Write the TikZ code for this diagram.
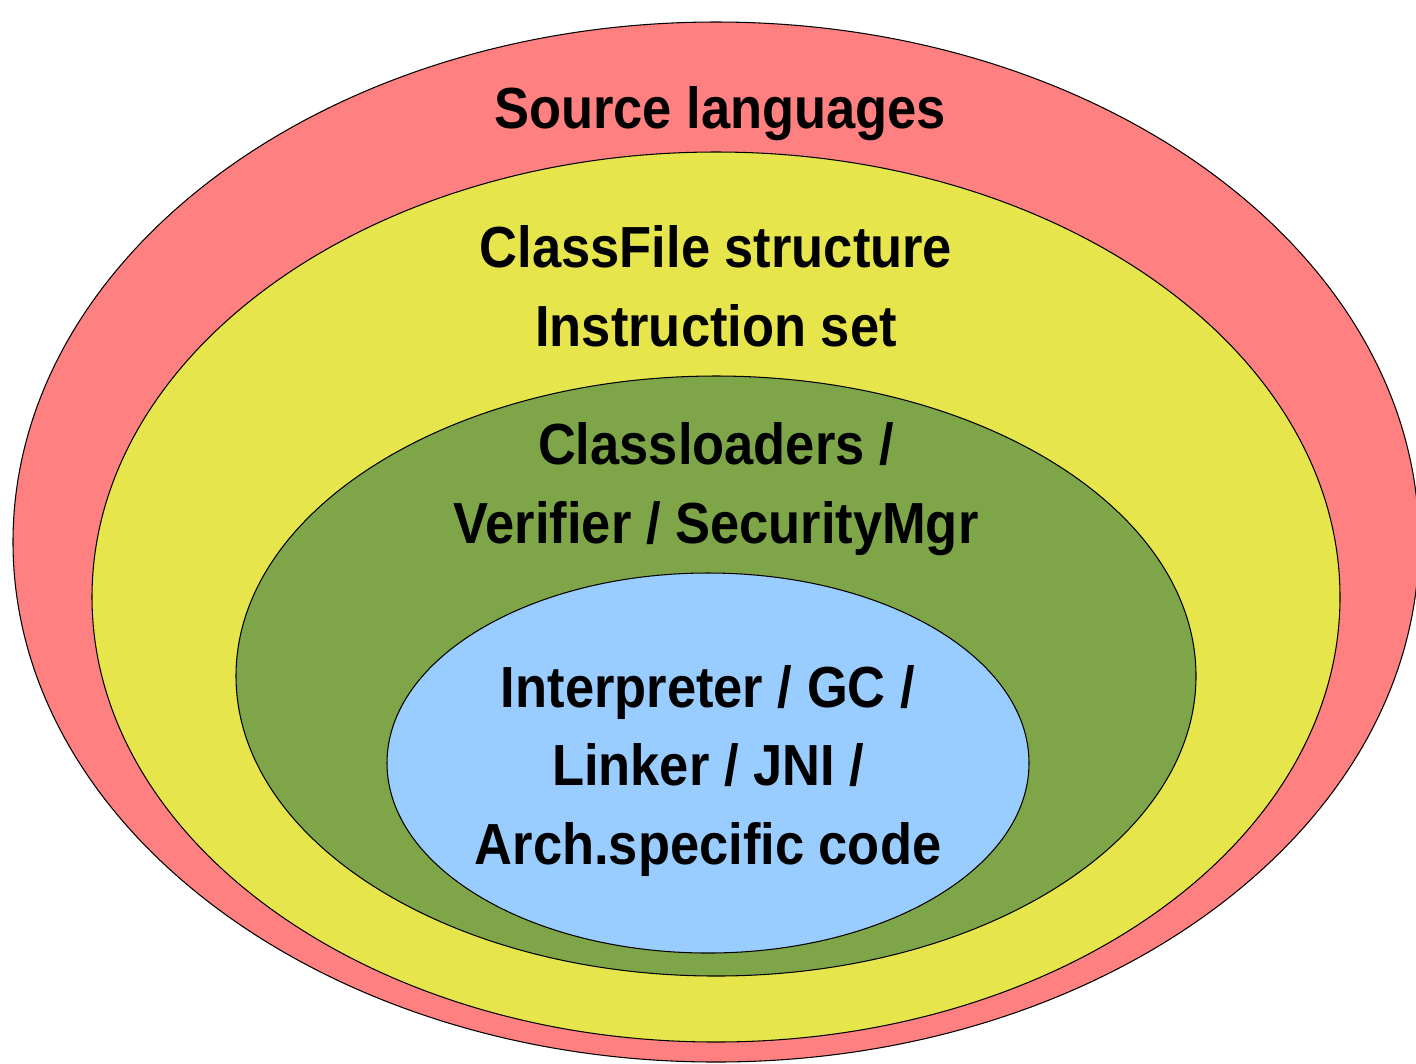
\documentclass[tikz,border=0pt]{standalone}
\usepackage{fontspec}
\setmainfont{Liberation Sans}[FakeStretch=0.905]

\definecolor{srcred}{HTML}{FF8080}
\definecolor{cfyellow}{HTML}{E6E64C}
\definecolor{ldgreen}{HTML}{7EA648}
\definecolor{vmblue}{HTML}{99CCFF}

\tikzset{
    layer/.style={draw=black, line width=0.6pt},
    label/.style={font=\bfseries\fontsize{33}{44.5}\selectfont, align=center, anchor=base}
}

\begin{document}
\begin{tikzpicture}[x=0.02cm, y=-0.02cm]
    \useasboundingbox (0,0) rectangle (1416,1063);

    % Source languages
    \draw[layer, fill=srcred] (716, 542) ellipse (703 and 520);
    \node[label] (src) at (720, 128) {Source languages};

    % Class file level
    \draw[layer, fill=cfyellow] (716, 597) ellipse (624 and 445);
    \node[label] (cf) at (716, 346) {ClassFile structure\\Instruction set};

    % Loading and checking
    \draw[layer, fill=ldgreen] (716, 676) ellipse (480 and 300);
    \node[label] (ld) at (716, 543) {Classloaders /\\Verifier / SecurityMgr};

    % Core VM
    \draw[layer, fill=vmblue] (708, 763) ellipse (321 and 190);
    \node[label] (vm) at (708, 864) {Interpreter / GC /\\Linker / JNI /\\Arch.specific code};
\end{tikzpicture}
\end{document}
